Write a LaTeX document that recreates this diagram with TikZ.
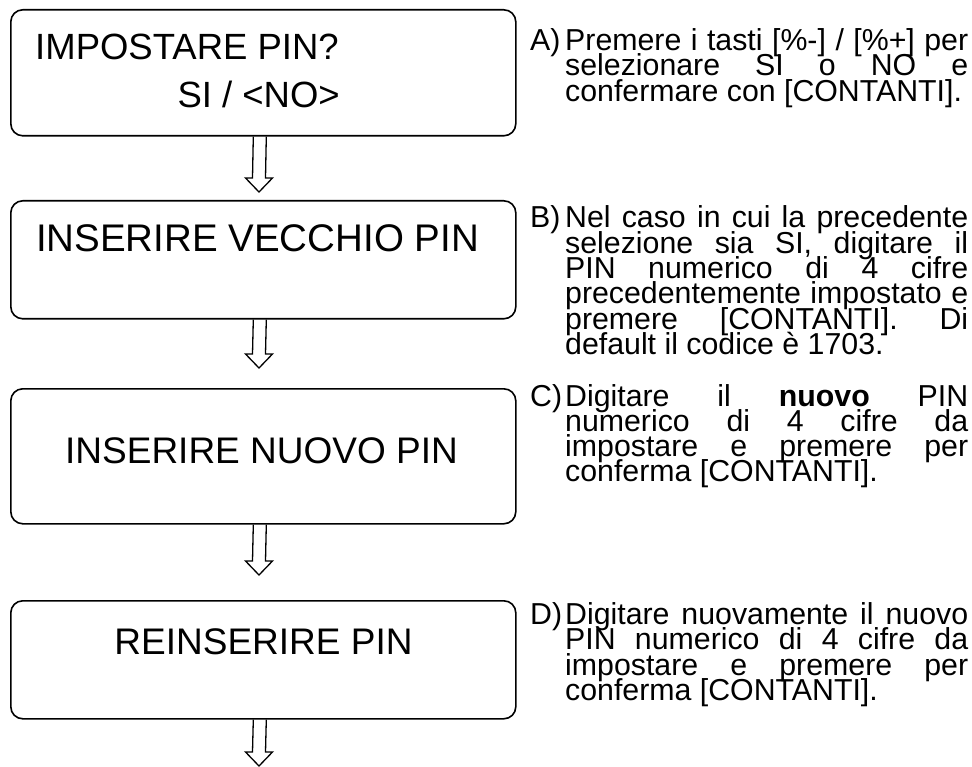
\documentclass[tikz,border=0pt]{standalone}
\usepackage{fontspec}
\setmainfont{Liberation Sans}
\usetikzlibrary{calc}
\lineskiplimit=-100pt
\frenchspacing
\tikzset{
  box/.style={draw, line width=1.6pt, rounded corners=12pt, inner sep=0pt, anchor=north west, minimum width=505pt},
  boxtext/.style={font=\fontsize{37}{40}\selectfont, inner sep=0pt},
  note/.style={font=\fontsize{30.3}{25.3}\selectfont, inner sep=0pt, text width=403pt, anchor=base west},
  notelabel/.style={font=\fontsize{30.3}{25.3}\selectfont, inner sep=0pt, anchor=base west},
  harrow/.style={draw, line width=1.3pt, line join=miter}
}
\newcommand\noteset{\lineskiplimit=-100pt\relax\baselineskip=25.3pt\relax\frenchspacing}
\newcommand\jl[1]{\hbox to 403pt{\spaceskip=.278em plus 1fil\relax #1}}
\newcommand\lastline[1]{\hbox{\spaceskip=.278em\relax #1}}
\newcommand\hollowarrow[2]{%
  \draw[harrow] ($(#1)+(-6.5,0)$) -- ($(#2)+(-6.5,-14)$) -- ($(#2)+(-13.5,-14)$) -- (#2)
    -- ($(#2)+(13.5,-14)$) -- ($(#2)+(6.5,-14)$) -- ($(#1)+(6.5,0)$);}
\begin{document}
\lineskiplimit=-100pt
\begin{tikzpicture}[x=1pt, y=-1pt]
\useasboundingbox (0,0) rectangle (972,767);
% boxes
\node[box, minimum height=126pt] (b1) at (10,9) {};
\node[box, minimum height=118pt] (b2) at (10,200) {};
\node[box, minimum height=135pt] (b3) at (10,388) {};
\node[box, minimum height=118pt] (b4) at (10,600) {};
% box texts
\node[boxtext, font=\fontsize{36.5}{40}\selectfont, anchor=base west] (t1a) at (35,60) {IMPOSTARE PIN?};
\node[boxtext, font=\fontsize{36.5}{40}\selectfont, anchor=base east] (t1b) at (340,108) {SI / <NO>};
\node[boxtext, font=\fontsize{38.5}{40}\selectfont, anchor=base] (t2) at (257.5,252) {INSERIRE VECCHIO PIN};
\node[boxtext, anchor=base] (t3) at (261.5,463) {INSERIRE NUOVO PIN};
\node[boxtext, anchor=base] (t4) at (263.5,654) {REINSERIRE PIN};
% arrows
\coordinate (s1) at ($(b1.south)+(-3.5,0)$);
\coordinate (s2) at ($(b2.south)+(-3.5,0)$);
\coordinate (s3) at ($(b3.south)+(-3.5,0)$);
\coordinate (s4) at ($(b4.south)+(-3.5,0)$);
\coordinate (e1) at (259,192);
\coordinate (e2) at (259,368);
\coordinate (e3) at (259,575);
\coordinate (e4) at (259,766);
\hollowarrow{s1}{e1}
\hollowarrow{s2}{e2}
\hollowarrow{s3}{e3}
\hollowarrow{s4}{e4}
% notes
\node[notelabel] (la) at (530,50.5) {A)};
\node[note] (na) at (565,50.5) {\noteset
\jl{Premere i tasti [\%-] / [\%+] per}
\jl{selezionare SI o NO e}
\lastline{confermare con [CONTANTI].}\par};
\node[notelabel] (lb) at (530,228) {B)};
\node[note] (nb) at (565,228) {\noteset
\jl{Nel caso in cui la precedente}
\jl{selezione sia SI, digitare il}
\jl{PIN numerico di 4 cifre}
\jl{precedentemente impostato e}
\jl{premere [CONTANTI]. Di}
\lastline{default il codice è 1703.}\par};
\node[notelabel] (lc) at (530,406) {C)};
\node[note] (nc) at (565,406) {\noteset
\jl{Digitare il \textbf{nuovo} PIN}
\jl{numerico di 4 cifre da}
\jl{impostare e premere per}
\lastline{conferma [CONTANTI].}\par};
\node[notelabel] (ld) at (530,624.5) {D)};
\node[note] (nd) at (565,624.5) {\noteset
\jl{Digitare nuovamente il nuovo}
\jl{PIN numerico di 4 cifre da}
\jl{impostare e premere per}
\lastline{conferma [CONTANTI].}\par};
\end{tikzpicture}
\end{document}
